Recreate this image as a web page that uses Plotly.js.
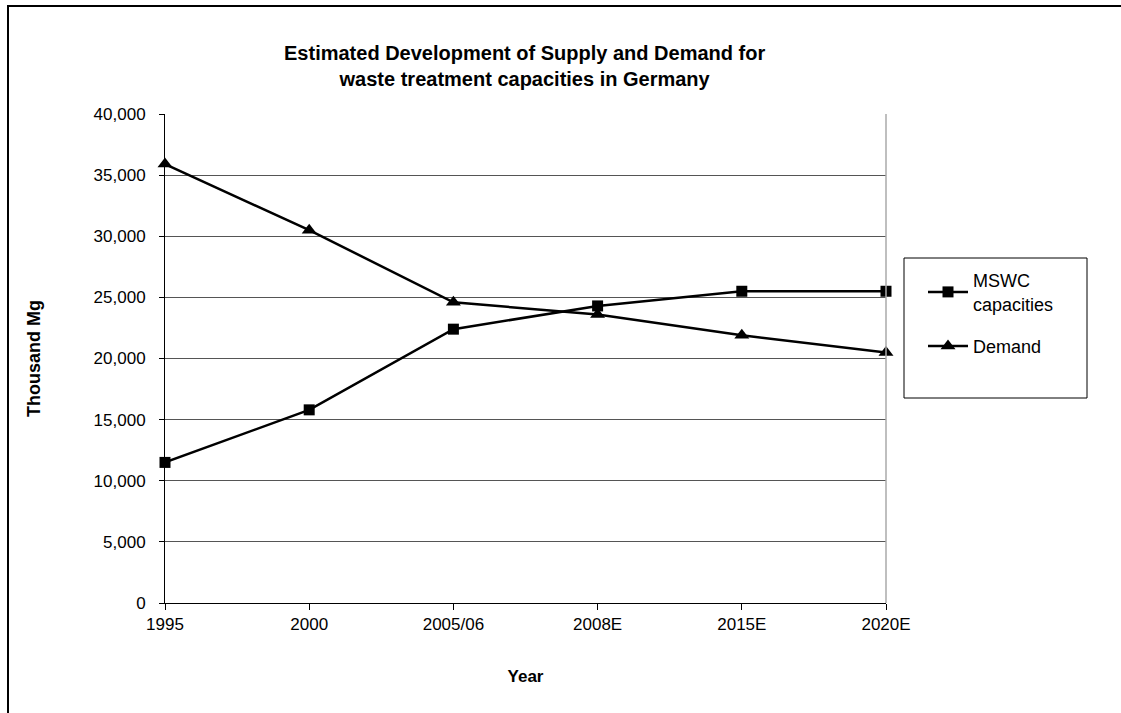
<!DOCTYPE html>
<html>
<head>
<meta charset="utf-8">
<script src="https://cdn.plot.ly/plotly-3.0.1.min.js"></script>
<style>
html,body{margin:0;padding:0;background:#fff;}
#frame{position:absolute;left:7px;top:5px;width:1200px;height:800px;border-left:2px solid #000;border-top:2px solid #000;}
#chart{position:absolute;left:0;top:0;width:1121px;height:713px;}
</style>
</head>
<body>
<div id="frame"></div>
<div id="chart"></div>
<script>
const categories = ["1995", "2000", "2005/06", "2008E", "2015E", "2020E"];
const mswcCapacities = [11500, 15800, 22400, 24300, 25500, 25500];
const demand = [35900, 30500, 24600, 23600, 21900, 20500];
const yTickVals = [0, 5000, 10000, 15000, 20000, 25000, 30000, 35000, 40000];
const yTickText = ["0", "5,000", "10,000", "15,000", "20,000", "25,000", "30,000", "35,000", "40,000"];

const font = "Liberation Sans, Arial, sans-serif";

const traces = [
  {
    x: categories, y: mswcCapacities, name: "MSWC<br>capacities", legendgroup: "a",
    type: "scatter", mode: "lines+markers", cliponaxis: false,
    line: {color: "#000", width: 2.5},
    marker: {symbol: "square", size: 11, color: "#000"}
  },
  {
    x: categories, y: demand, name: "Demand", legendgroup: "b",
    type: "scatter", mode: "lines+markers", cliponaxis: false,
    line: {color: "#000", width: 2.5},
    marker: {symbol: "triangle-up", size: 13, color: "#000"}
  }
];

const layout = {
  width: 1121, height: 713,
  paper_bgcolor: "rgba(0,0,0,0)", plot_bgcolor: "#fff",
  margin: {l: 165, r: 235, t: 114, b: 110},
  font: {family: font, size: 16, color: "#000"},
  title: {
    text: "<b>Estimated Development of Supply and Demand for<br>waste treatment capacities in Germany</b>",
    font: {family: font, size: 20, color: "#000"},
    x: 0.468, xanchor: "center", y: 0.916, yanchor: "middle"
  },
  xaxis: {
    type: "category", categoryorder: "array", categoryarray: categories,
    range: [0, 5],
    showline: true, linecolor: "#000", linewidth: 1,
    ticks: "outside", ticklen: 6, tickcolor: "#000",
    showgrid: false, zeroline: false,
    tickfont: {family: font, size: 17},
    title: {text: "<b>Year</b>", font: {family: font, size: 17}, standoff: 36}
  },
  yaxis: {
    range: [0, 40000],
    tickvals: yTickVals, ticktext: yTickText,
    showline: true, linecolor: "#000", linewidth: 1,
    ticks: "outside", ticklen: 5, tickcolor: "#000", ticklabelstandoff: 10,
    showgrid: true, gridcolor: "#555", gridwidth: 1, zeroline: false,
    tickfont: {family: font, size: 17},
    title: {text: "<b>Thousand Mg</b>", font: {family: font, size: 18}, standoff: 48}
  },
  shapes: [
    {type: "line", xref: "paper", yref: "paper", x0: 1, x1: 1, y0: 0, y1: 1,
     line: {color: "#aaa", width: 1.5}},
    {type: "rect", xref: "paper", yref: "paper",
     x0: (904 - 165) / 721, x1: (1087 - 165) / 721,
     y0: (603 - 398) / 489, y1: (603 - 258) / 489,
     line: {color: "#000", width: 1}, fillcolor: "rgba(0,0,0,0)"}
  ],
  showlegend: true,
  legend: {
    x: (923 - 165) / 721, xanchor: "left",
    y: (603 - 262) / 489, yanchor: "top",
    bgcolor: "rgba(0,0,0,0)", borderwidth: 0,
    font: {family: font, size: 18},
    tracegroupgap: 16, itemwidth: 40
  }
};

Plotly.newPlot("chart", traces, layout, {displayModeBar: false, staticPlot: true});
</script>
</body>
</html>
